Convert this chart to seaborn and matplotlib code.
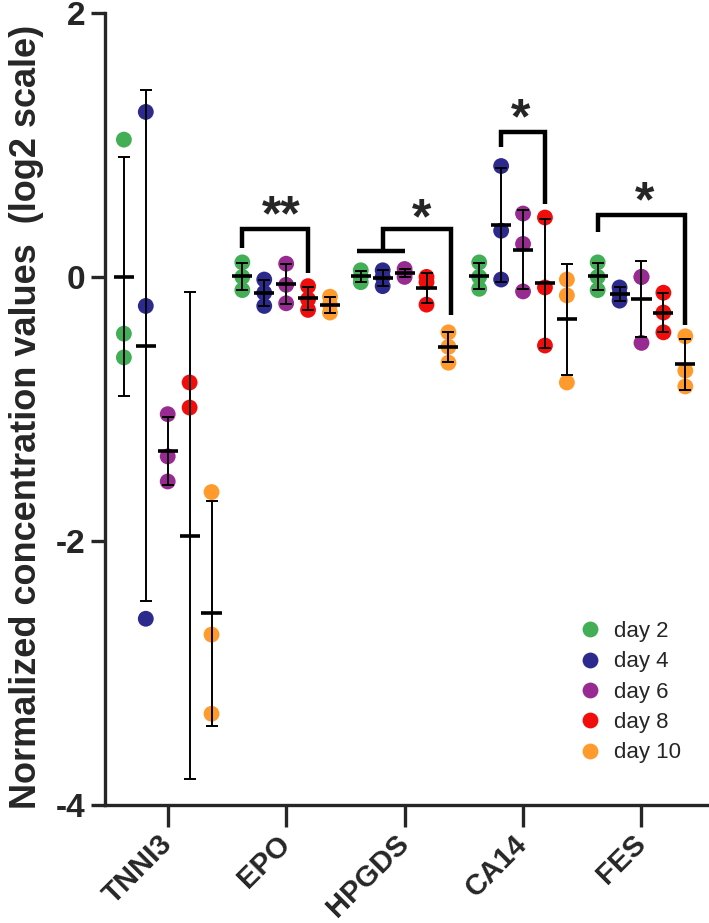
import numpy as np
import pandas as pd
import matplotlib.pyplot as plt
import seaborn as sns

# genes on the x axis, days as hue
genes = ["TNNI3", "EPO", "HPGDS", "CA14", "FES"]
days = ["day 2", "day 4", "day 6", "day 8", "day 10"]
day_colors = ["#42AE55", "#2D2A8E", "#982B91", "#F20D0D", "#FF9A2C"]

# triplicate log2 values per day (day 2 ... day 10)
tnni3 = [[1.04, -0.43, -0.61], [1.25, -0.22, -2.59], [-1.04, -1.36, -1.55],
         [-0.80, -0.99, -4.09], [-1.63, -2.71, -3.31]]
epo = [[0.11, 0.0, -0.10], [-0.02, -0.12, -0.22], [0.10, -0.06, -0.20],
       [-0.07, -0.17, -0.25], [-0.15, -0.21, -0.27]]
hpgds = [[0.05, 0.0, -0.04], [0.05, 0.0, -0.07], [0.06, 0.03, 0.0],
         [0.0, -0.04, -0.21], [-0.42, -0.53, -0.65]]
ca14 = [[0.11, 0.0, -0.09], [0.84, 0.35, -0.02], [0.48, 0.25, -0.11],
        [0.45, -0.08, -0.52], [-0.02, -0.14, -0.80]]
fes = [[0.11, 0.0, -0.10], [-0.08, -0.13, -0.18], [0.0, 0.0, -0.50],
       [-0.12, -0.27, -0.42], [-0.45, -0.71, -0.83]]

y_ticks = [-4, -2, 0, 2]
y_label = "Normalized concentration values  (log2 scale)"

sns.set_theme(style="ticks")
plt.rcParams['font.family'] = ['Liberation Sans', 'DejaVu Sans']
plt.rcParams['axes.unicode_minus'] = False

# table long format
valeurs = [tnni3, epo, hpgds, ca14, fes]
offsets = np.array([-0.37, -0.185, 0.0, 0.185, 0.37])
lignes = []
for gi, gene in enumerate(genes):
    for di, day in enumerate(days):
        for v in valeurs[gi][di]:
            lignes.append({"gene": gene, "day": day, "value": v,
                           "xpos": gi + offsets[di]})
df = pd.DataFrame(lignes)

fig = plt.figure(figsize=(7.09, 9.23), dpi=100)
ax = fig.add_axes([0.148, 0.128, 0.852, 0.858])

sns.scatterplot(data=df, x="xpos", y="value", hue="day", hue_order=days,
                palette=day_colors, s=130, edgecolor="none", linewidth=0,
                ax=ax, zorder=3)

# moyenne +/- SD
stats = df.groupby(["gene", "day"], sort=False).agg(
    x=("xpos", "first"), moy=("value", "mean"), sd=("value", "std")).reset_index()
ax.errorbar(stats["x"], stats["moy"], yerr=stats["sd"], fmt="none",
            ecolor="black", elinewidth=1.4, capsize=4.5, capthick=1.4, zorder=4)
ax.hlines(stats["moy"], stats["x"] - 0.085, stats["x"] + 0.085,
          color="black", lw=2.6, zorder=5)

# crochets de significativite
lw_b = 3.2
def crochet(xs, ys, etoiles, xt, yt):
    ax.plot(xs, ys, color="black", lw=lw_b, solid_joinstyle="miter",
            solid_capstyle="butt", zorder=6)
    ax.text(xt, yt, etoiles, ha="center", va="center", fontsize=36,
            fontweight="bold", zorder=6)

crochet([1 - 0.37, 1 - 0.37, 1.185, 1.185], [0.22, 0.365, 0.365, 0.03], "**", 0.96, 0.45)
ax.plot([2 - 0.40, 2.0], [0.2, 0.2], color="black", lw=lw_b, solid_capstyle="butt", zorder=6)
crochet([2 - 0.185, 2 - 0.185, 2.39, 2.39], [0.2, 0.36, 0.36, -0.29], "*", 2.14, 0.43)
crochet([3 - 0.185, 3 - 0.185, 3.185, 3.185], [0.985, 1.1, 1.1, 0.556], "*", 2.98, 1.19)
crochet([4 - 0.37, 4 - 0.37, 4.37, 4.37], [0.34, 0.467, 0.467, -0.366], "*", 4.03, 0.56)

ax.set_xlim(-0.53, 4.57)
ax.set_ylim(-4, 2)
ax.set_yticks(y_ticks)
ax.set_yticklabels([str(t) for t in y_ticks], fontsize=24, fontweight="bold")
ax.set_xticks(range(len(genes)))
ax.set_xticklabels(genes, rotation=45, ha="right", va="center",
                   rotation_mode="anchor", fontsize=21, fontweight="bold")
ax.set_xlabel("")
ax.set_ylabel(y_label, fontsize=26, fontweight="bold")
ax.yaxis.set_label_coords(-0.101, 0.49)

for cote in ["top", "right"]:
    ax.spines[cote].set_visible(False)
for cote in ["left", "bottom"]:
    ax.spines[cote].set_linewidth(2.4)
ax.tick_params(axis="y", length=10, width=2.4, pad=4)
ax.tick_params(axis="x", length=16, width=2.4, pad=9)

leg = ax.legend(frameon=False, loc="upper left", bbox_to_anchor=(0.766, 0.246),
                fontsize=16, handlelength=1.0, handletextpad=0.6,
                labelspacing=0.42, markerscale=1.0, borderpad=0)

fig.savefig("out.png", dpi=100)
